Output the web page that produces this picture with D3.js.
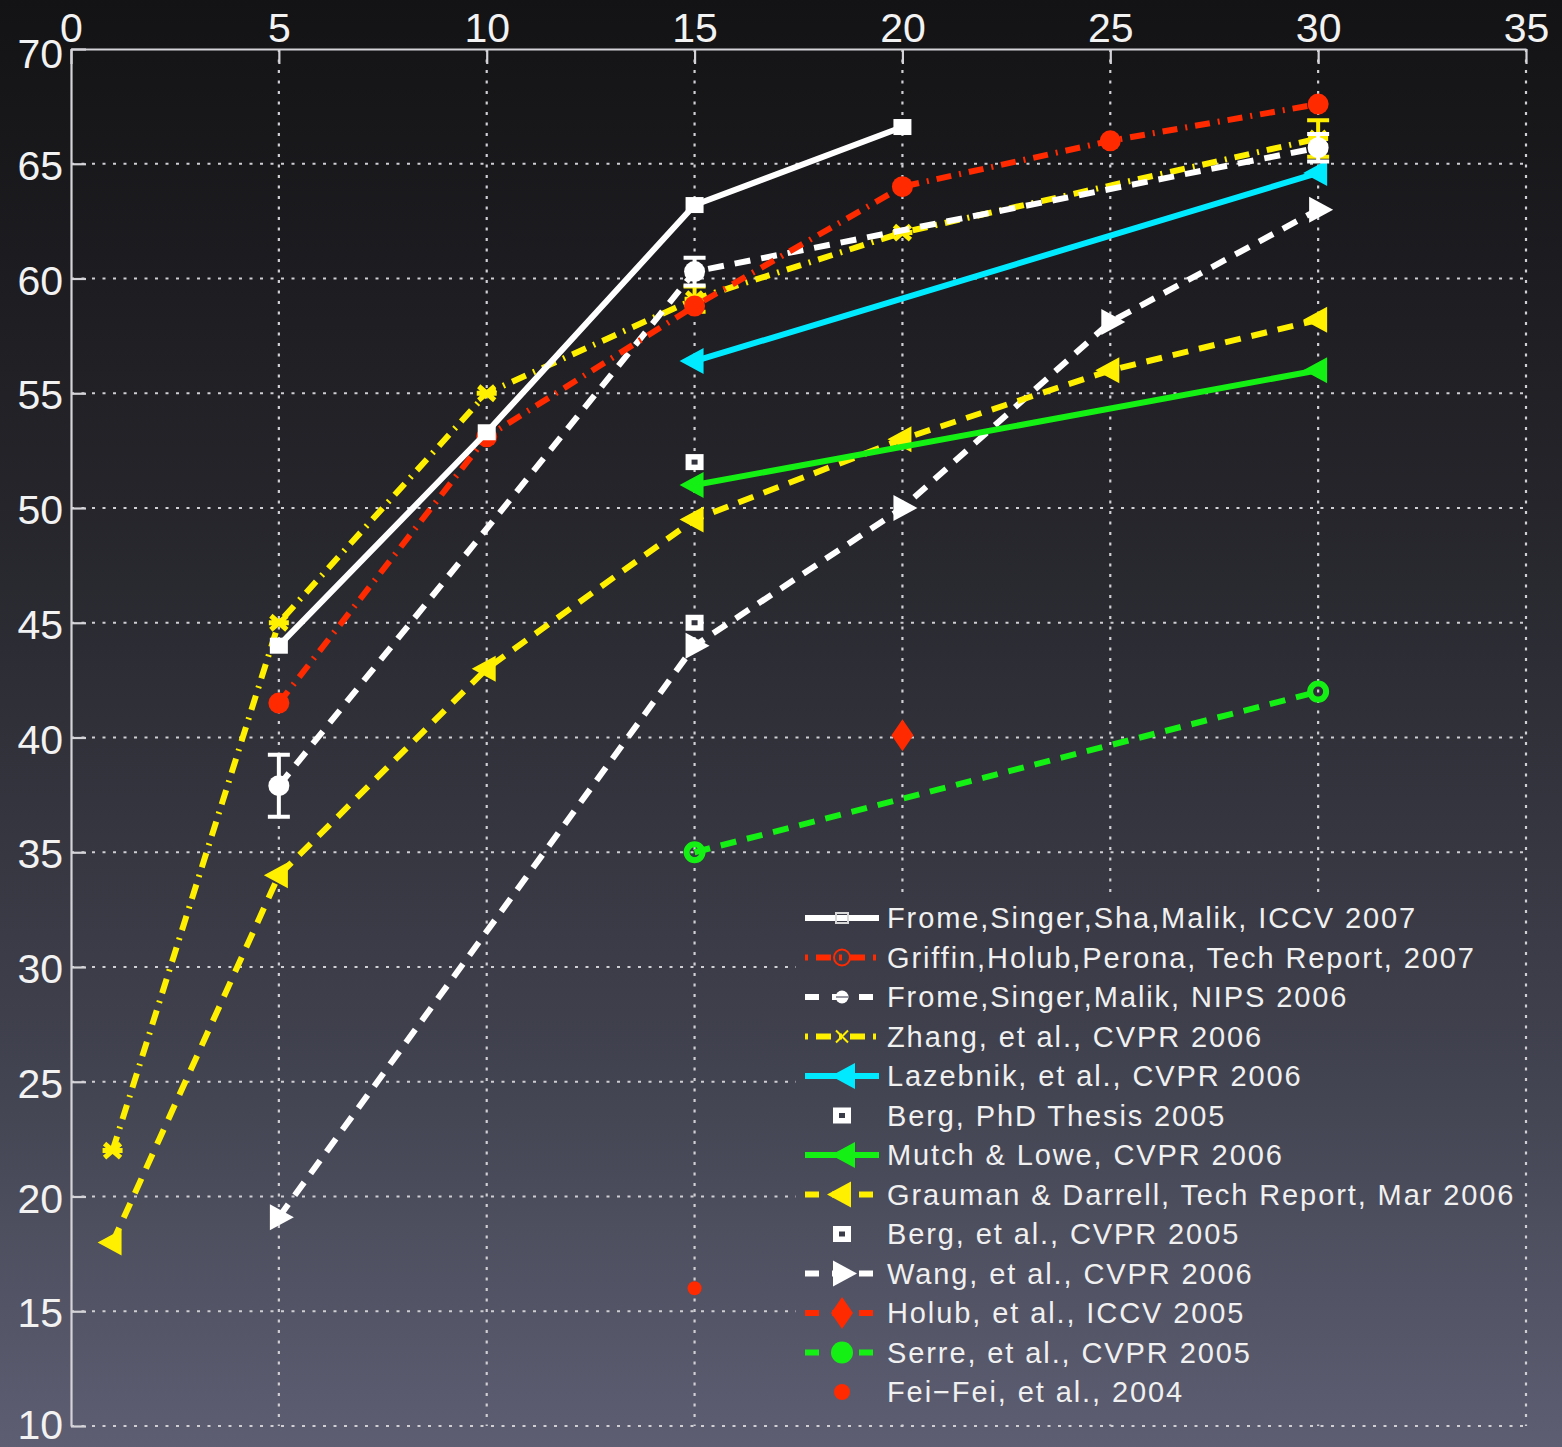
<!DOCTYPE html>
<html>
<head>
<meta charset="utf-8">
<script src="https://cdn.jsdelivr.net/npm/d3@7"></script>
<style>
  html, body { margin: 0; padding: 0; background: #151517; }
  svg { display: block; }
  text { font-family: "Liberation Sans", Arial, sans-serif; }
</style>
</head>
<body>
<svg id="chart" width="1562" height="1447"></svg>
<script>
// Axis ticks
const xTicks = [0, 5, 10, 15, 20, 25, 30, 35];
const yTicks = [10, 15, 20, 25, 30, 35, 40, 45, 50, 55, 60, 65, 70];

// Series: number of training examples vs. mean recognition rate (%)
const fromeIccv07 = [[5, 44.0], [10, 53.3], [15, 63.2], [20, 66.6]];
const griffin07 = [[5, 41.5], [10, 53.1], [15, 58.8], [20, 64.0], [25, 66.0], [30, 67.6]];
const fromeNips06 = [[5, 37.9], [15, 60.3], [30, 65.7]];
const fromeNips06Err = [1.35, 0.6, 0.6];
const zhang06 = [[1, 22.0], [5, 45.0], [10, 55.0], [15, 59.1], [20, 62.0], [30, 66.1]];
const zhang06Err = [0, 0, 0, 0.55, 0, 0.8];
const lazebnik06 = [[15, 56.4], [30, 64.6]];
const bergThesis05 = [[15, 52.0]];
const mutchLowe06 = [[15, 51.0], [30, 56.0]];
const grauman06 = [[1, 18.0], [5, 34.0], [10, 43.0], [15, 49.5], [20, 53.0], [25, 56.0], [30, 58.2]];
const berg05 = [[15, 45.0]];
const wang06 = [[5, 19.1], [15, 44.0], [20, 50.0], [25, 58.1], [30, 63.0]];
const holub05 = [[20, 40.1]];
const serre05 = [[15, 35.0], [30, 42.0]];
const feiFei04 = [[15, 16.0]];

const legendLabels = [
  "Frome,Singer,Sha,Malik, ICCV 2007",
  "Griffin,Holub,Perona, Tech Report, 2007",
  "Frome,Singer,Malik, NIPS 2006",
  "Zhang, et al., CVPR 2006",
  "Lazebnik, et al., CVPR 2006",
  "Berg, PhD Thesis 2005",
  "Mutch & Lowe, CVPR 2006",
  "Grauman & Darrell, Tech Report, Mar 2006",
  "Berg, et al., CVPR 2005",
  "Wang, et al., CVPR 2006",
  "Holub, et al., ICCV 2005",
  "Serre, et al., CVPR 2005",
  "Fei\u2212Fei, et al., 2004"
];

const RED = "#ff2a00", WHITE = "#ffffff", YELLOW = "#fff000", CYAN = "#00eaff", GREEN = "#14f014";
const DASH = "16,11", DASHDOT = "15,8,2,8";

const series = [
  { data: fromeIccv07, color: WHITE, dash: null, marker: "square", legendMarker: "squareSmall" },
  { data: griffin07, color: RED, dash: DASHDOT, marker: "circle", legendMarker: "ringSmall" },
  { data: fromeNips06, err: fromeNips06Err, color: WHITE, dash: DASH, marker: "circle", legendMarker: "dotSmall" },
  { data: zhang06, err: zhang06Err, color: YELLOW, dash: DASHDOT, marker: "x", legendMarker: "xSmall" },
  { data: lazebnik06, color: CYAN, dash: null, marker: "triLeft" },
  { data: bergThesis05, color: WHITE, dash: null, noLine: true, marker: "squareDot" },
  { data: mutchLowe06, color: GREEN, dash: null, marker: "triLeft" },
  { data: grauman06, color: YELLOW, dash: DASH, marker: "triLeft" },
  { data: berg05, color: WHITE, dash: null, noLine: true, marker: "squareDot" },
  { data: wang06, color: WHITE, dash: DASH, marker: "triRight" },
  { data: holub05, color: RED, dash: DASH, noLine: true, marker: "diamond" },
  { data: serre05, color: GREEN, dash: DASH, marker: "ring" },
  { data: feiFei04, color: RED, dash: null, noLine: true, marker: "dot" }
];

const W = 1562, H = 1447;
const margin = { left: 71, top: 49, right: W - 1526, bottom: H - 1426 };
const svg = d3.select("#chart");

// background gradient (user space so the legend box can reuse it seamlessly)
const defs = svg.append("defs");
const grad = defs.append("linearGradient").attr("id", "bg")
  .attr("gradientUnits", "userSpaceOnUse").attr("x1", 0).attr("y1", 0).attr("x2", 0).attr("y2", H);
grad.append("stop").attr("offset", "0%").attr("stop-color", "#131315");
grad.append("stop").attr("offset", "35%").attr("stop-color", "#25252b");
grad.append("stop").attr("offset", "70%").attr("stop-color", "#3e3f4b");
grad.append("stop").attr("offset", "100%").attr("stop-color", "#5d5e72");
svg.append("rect").attr("width", W).attr("height", H).attr("fill", "url(#bg)");

const x = d3.scaleLinear().domain([0, 35]).range([margin.left, W - margin.right]);
const y = d3.scaleLinear().domain([10, 70]).range([H - margin.bottom, margin.top]);

// dotted grid
const grid = svg.append("g").attr("stroke", "#cfcfd4").attr("stroke-width", 2.2).attr("stroke-dasharray", "3,7.5");
grid.selectAll(".gx").data(xTicks.filter(d => d > 0)).join("line")
  .attr("x1", d => x(d)).attr("x2", d => x(d)).attr("y1", y(70)).attr("y2", y(10));
grid.selectAll(".gy").data(yTicks.filter(d => d < 70)).join("line")
  .attr("x1", x(0)).attr("x2", x(35)).attr("y1", d => y(d)).attr("y2", d => y(d));

// axes: top and left, with inward ticks
const axisTop = svg.append("g").attr("transform", `translate(0,${y(70)})`)
  .call(d3.axisTop(x).tickValues(xTicks).tickSizeInner(-15).tickSizeOuter(0).tickPadding(7));
const axisLeft = svg.append("g").attr("transform", `translate(${x(0)},0)`)
  .call(d3.axisLeft(y).tickValues(yTicks).tickSizeInner(-15).tickSizeOuter(0).tickPadding(8));
[axisTop, axisLeft].forEach(a => {
  a.select(".domain").attr("stroke", "#d4d4d8").attr("stroke-width", 2.2);
  a.selectAll(".tick line").attr("stroke", "#d4d4d8").attr("stroke-width", 2.2);
  a.selectAll(".tick text").attr("fill", "#f2f2f2").attr("font-size", 41)
    .attr("font-family", "Liberation Sans, Arial, sans-serif");
});
axisTop.selectAll(".tick text").attr("dy", "0em");
axisLeft.selectAll(".tick text").attr("dy", "0.38em");
axisLeft.selectAll(".tick").filter(d => d === 70).select("text").attr("dy", "0.44em");
axisLeft.selectAll(".tick").filter(d => d === 10).select("text").attr("dy", "0.3em");

// marker drawing
function drawMarker(g, type, cx, cy, color) {
  const m = g.append("g").attr("transform", `translate(${cx},${cy})`);
  switch (type) {
    case "square":
      m.append("rect").attr("x", -9).attr("y", -8).attr("width", 18).attr("height", 16).attr("fill", color);
      break;
    case "squareSmall":
      m.append("rect").attr("x", -6).attr("y", -5).attr("width", 12).attr("height", 10)
        .attr("fill", "none").attr("stroke", "#d8d8d8").attr("stroke-width", 2);
      break;
    case "squareDot":
      m.append("rect").attr("x", -9).attr("y", -8).attr("width", 18).attr("height", 16).attr("fill", color);
      m.append("rect").attr("x", -3).attr("y", -2.5).attr("width", 6).attr("height", 5).attr("fill", "#333340");
      break;
    case "circle":
      m.append("circle").attr("r", 10.5).attr("fill", color);
      break;
    case "ringSmall":
      m.append("circle").attr("r", 8).attr("fill", "none").attr("stroke", color).attr("stroke-width", 2);
      break;
    case "dotSmall":
      m.append("circle").attr("r", 6.5).attr("fill", color);
      m.append("line").attr("x1", -6).attr("x2", 6).attr("stroke", "#555566").attr("stroke-width", 1.2);
      break;
    case "dot":
      m.append("circle").attr("r", 7).attr("fill", color);
      break;
    case "ring":
      m.append("circle").attr("r", 8).attr("fill", "none").attr("stroke", color).attr("stroke-width", 6);
      break;
    case "x":
      m.append("path").attr("d", "M-8,-7L8,7M-8,7L8,-7M-10,0L10,0").attr("stroke", color).attr("stroke-width", 5).attr("fill", "none");
      break;
    case "xSmall":
      m.append("path").attr("d", "M-6,-6L6,6M-6,6L6,-6").attr("stroke", color).attr("stroke-width", 2).attr("fill", "none");
      break;
    case "triLeft":
      m.append("path").attr("d", "M-15,0L9,-13L9,13Z").attr("fill", color);
      break;
    case "triRight":
      m.append("path").attr("d", "M15,0L-9,-13L-9,13Z").attr("fill", color);
      break;
    case "diamond":
      m.append("path").attr("d", "M0,-16L11,0L0,16L-11,0Z").attr("fill", color);
      break;
  }
}

const line = d3.line().x(d => x(d[0])).y(d => y(d[1]));
const plot = svg.append("g");

// draw series from last to first so earlier entries sit on top
series.slice().reverse().forEach(s => {
  const g = plot.append("g");
  if (!s.noLine && s.data.length > 1) {
    g.append("path").datum(s.data).attr("d", line)
      .attr("fill", "none").attr("stroke", s.color).attr("stroke-width", 6)
      .attr("stroke-dasharray", s.dash).attr("stroke-linecap", "butt").attr("stroke-linejoin", "round");
  }
  if (s.err) {
    s.data.forEach((d, i) => {
      const e = s.err[i];
      if (!e) return;
      const cx = x(d[0]);
      g.append("path")
        .attr("d", `M${cx},${y(d[1] - e)}V${y(d[1] + e)}M${cx - 11},${y(d[1] - e)}H${cx + 11}M${cx - 11},${y(d[1] + e)}H${cx + 11}`)
        .attr("stroke", s.color).attr("stroke-width", 4).attr("fill", "none");
    });
  }
  s.data.forEach(d => drawMarker(g, s.marker, x(d[0]), y(d[1]), s.color));
});

// legend: borderless box filled with the background so grid lines stop at it
svg.append("rect").attr("x", 796).attr("y", 896).attr("width", 1524 - 796).attr("height", 1418 - 896)
  .attr("fill", "url(#bg)");
const legend = svg.append("g").attr("transform", "translate(805,918)");
const rowH = 39.5;
series.forEach((s, i) => {
  const row = legend.append("g").attr("transform", `translate(0,${i * rowH})`);
  if (!s.noLine || s.marker === "diamond") {
    row.append("line").attr("x1", 0).attr("x2", 74).attr("y1", 0).attr("y2", 0)
      .attr("stroke", s.color).attr("stroke-width", 6)
      .attr("stroke-dasharray", s.dash === DASH ? "14,13" : (s.dash === DASHDOT ? "3,8,15,8" : null));
  }
  const mk = s.legendMarker || s.marker;
  const mx = (s.marker === "triLeft" && !s.dash) ? 41 : 37;
  if (mk === "ring") {
    row.append("circle").attr("cx", mx).attr("cy", 0).attr("r", 11).attr("fill", s.color);
  } else if (mk === "squareDot") {
    row.append("rect").attr("x", mx - 9).attr("y", -8).attr("width", 18).attr("height", 16).attr("fill", WHITE);
    row.append("rect").attr("x", mx - 3).attr("y", -2.5).attr("width", 6).attr("height", 5).attr("fill", "#3a3b48");
  } else if (mk === "dot") {
    row.append("circle").attr("cx", mx).attr("cy", 0).attr("r", 8).attr("fill", s.color);
  } else {
    drawMarker(row, mk, mx, 0, s.color);
  }
  row.append("text").attr("x", 82).attr("y", 0).attr("dy", "0.36em")
    .attr("fill", "#f0f0f0").attr("font-size", 29).attr("letter-spacing", "1.9px")
    .text(legendLabels[i]);
});
</script>
</body>
</html>
